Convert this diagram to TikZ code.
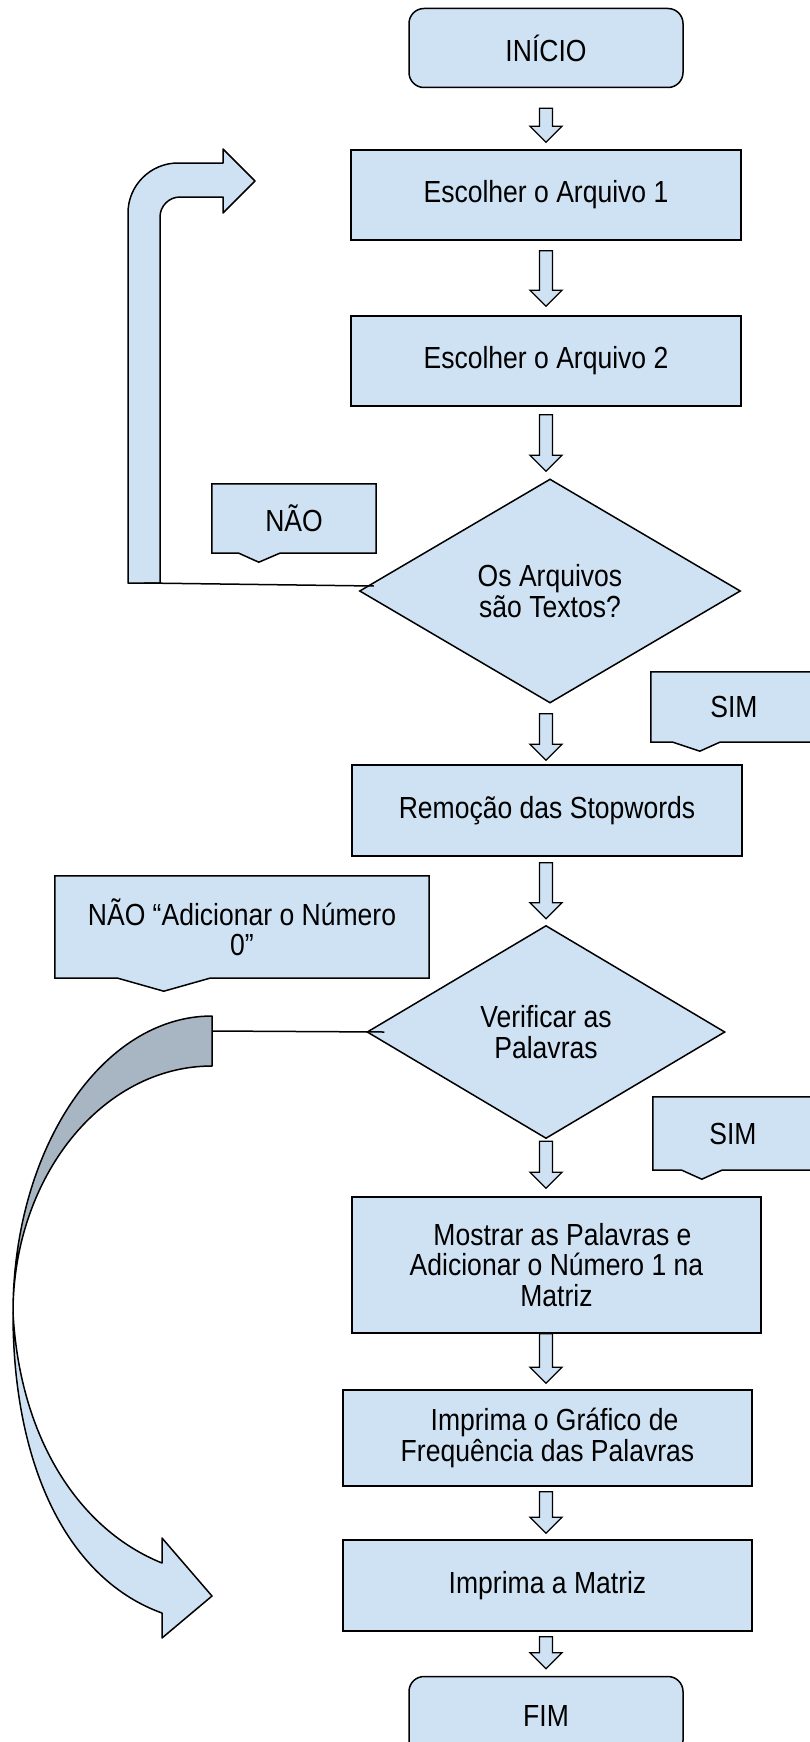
\documentclass[tikz,border=0pt]{standalone}
\usepackage{fontspec}
\setmainfont{Liberation Sans}[FakeStretch=0.87]
\usetikzlibrary{shapes.geometric,calc,backgrounds}

\definecolor{boxblue}{RGB}{207,226,243}
\definecolor{backgray}{RGB}{167,182,194}

% block arrow between two nodes: from, to, gap below from, gap above to
\newcommand{\flowarrow}[4]{%
  \path[blockarrow] let \p1=($(inicio.center |- #1.south)+(0,#3)$), \p2=($(inicio.center |- #2.north)+(0,-#4)$) in
    (\x1-6.5pt,\y1) -- (\x1+6.5pt,\y1) -- (\x1+6.5pt,\y2+16pt) -- (\x1+16pt,\y2+16pt) -- (\x1,\y2)
    -- (\x1-16pt,\y2+16pt) -- (\x1-6.5pt,\y2+16pt) -- cycle;}

% callout outline round a node: name, pointer left, tip x, pointer right, tip depth
\newcommand{\callout}[5]{%
  \draw[callbody] (#1.north west) -- (#1.north east) -- (#1.south east) -- ($(#1.south west)+(#4,0)$)
    -- ($(#1.south west)+(#3,#5)$) -- ($(#1.south west)+(#2,0)$) -- (#1.south west) -- cycle;}

\tikzset{
  startstop/.style={draw, line width=1.5pt, fill=boxblue, rounded corners=15pt,
    minimum width=274pt, minimum height=79pt, inner sep=0pt},
  procbox/.style={draw, line width=1.5pt, fill=boxblue, inner sep=0pt, align=center},
  decision/.style={diamond, draw, line width=1.5pt, fill=boxblue, inner sep=0pt, align=center},
  callnote/.style={inner sep=0pt, align=center},
  callbody/.style={draw, line width=1.5pt, fill=boxblue},
  blockarrow/.style={draw, line width=1.3pt, fill=boxblue},
  bigarrow/.style={draw, line width=1.5pt, line join=round},
  thinline/.style={draw, line width=1.5pt}
}

\begin{document}
\begin{tikzpicture}[x=1pt, y=-1pt, every node/.style={font=\fontsize{30.5}{30.5}\selectfont}]
    \useasboundingbox (0,0) rectangle (809,1742);
    \clip (0,0) rectangle (809,1742);

    % main flow
    \node[startstop] (inicio) at (546,48) {INÍCIO};
    \node[procbox, minimum width=390pt, minimum height=90pt] (arq1) at (546,195) {Escolher o Arquivo 1};
    \node[procbox, minimum width=390pt, minimum height=90pt] (arq2) at (546,361) {Escolher o Arquivo 2};
    \node[decision, minimum width=381pt, minimum height=224pt] (textos) at (550,591) {Os Arquivos\\são Textos?};
    \node[procbox, minimum width=390pt, minimum height=91pt] (stopw) at (547,810.5) {Remoção das Stopwords};
    \node[decision, minimum width=358pt, minimum height=213pt] (verif) at (546,1032) {Verificar as\\Palavras};
    \node[procbox, minimum width=409pt, minimum height=136pt] (mostrar) at (556.5,1265) {\hspace*{12pt}Mostrar as Palavras e\\Adicionar o Número 1 na\\Matriz};
    \node[procbox, minimum width=409pt, minimum height=96pt] (grafico) at (547.5,1438) {\hspace*{14pt}Imprima o Gráfico de\\Frequência das Palavras};
    \node[procbox, minimum width=409pt, minimum height=91pt] (matriz) at (547.5,1585.5) {Imprima a Matriz};
    \node[startstop] (fim) at (546,1716) {FIM};

    % answers
    \node[callnote, minimum width=164pt, minimum height=69pt] (nao1) at (294,518.5) {NÃO};
    \node[callnote, minimum width=166pt, minimum height=70pt] (sim1) at (734,707) {SIM};
    \node[callnote, minimum width=160pt, minimum height=73pt] (sim2) at (733,1133.5) {SIM};
    \node[callnote, minimum width=374pt, minimum height=102pt] (nao2) at (242,927) {NÃO “Adicionar o Número\\0”};
    \begin{scope}[on background layer]
        \callout{nao1}{27}{47}{68}{9}
        \callout{sim1}{22}{49}{69}{9}
        \callout{sim2}{29}{49}{69}{9}
        \callout{nao2}{63}{109}{155}{13}
    \end{scope}

    % arrows down the flow
    \flowarrow{inicio}{arq1}{20}{7}
    \flowarrow{arq1}{arq2}{10}{9}
    \flowarrow{arq2}{textos}{8}{7}
    \flowarrow{textos}{stopw}{10}{4}
    \flowarrow{stopw}{verif}{6}{6}
    \flowarrow{verif}{mostrar}{2}{8}
    \flowarrow{mostrar}{grafico}{0}{6}
    \flowarrow{grafico}{matriz}{5}{6}
    \flowarrow{matriz}{fim}{5}{7}

    % loop back to the first file
    \path[bigarrow, fill=boxblue] (128,583) -- (128,213) .. controls (128,185.4) and (150.4,163) .. (178,163)
        -- (223,163) -- (223,149) -- (255,181) -- (223,213) -- (223,197)
        -- (180,197) .. controls (169,197) and (160,206) .. (160,217) -- (160,583) -- cycle;
    \coordinate (looptail) at (144,583);
    \draw[thinline] (looptail) -- ($(textos.west)+(15,-5)$);

    % curved arrow down to the matrix
    \path[bigarrow, fill=backgray] (212,1016) .. controls (102,1016) and (13,1149) .. (13,1313)
        .. controls (13,1177) and (102,1066) .. (212,1066) -- cycle;
    \path[bigarrow, fill=boxblue] (13,1313) .. controls (20,1440) and (80,1530) .. (162,1563)
        -- (162,1538) -- (212,1596) -- (162,1638) -- (162,1613)
        .. controls (70,1580) and (13,1470) .. (13,1313) -- cycle;
    \coordinate (backtail) at (212,1031);
    \draw[thinline] (backtail) -- ($(verif.west)+(18,0)$);
\end{tikzpicture}
\end{document}
